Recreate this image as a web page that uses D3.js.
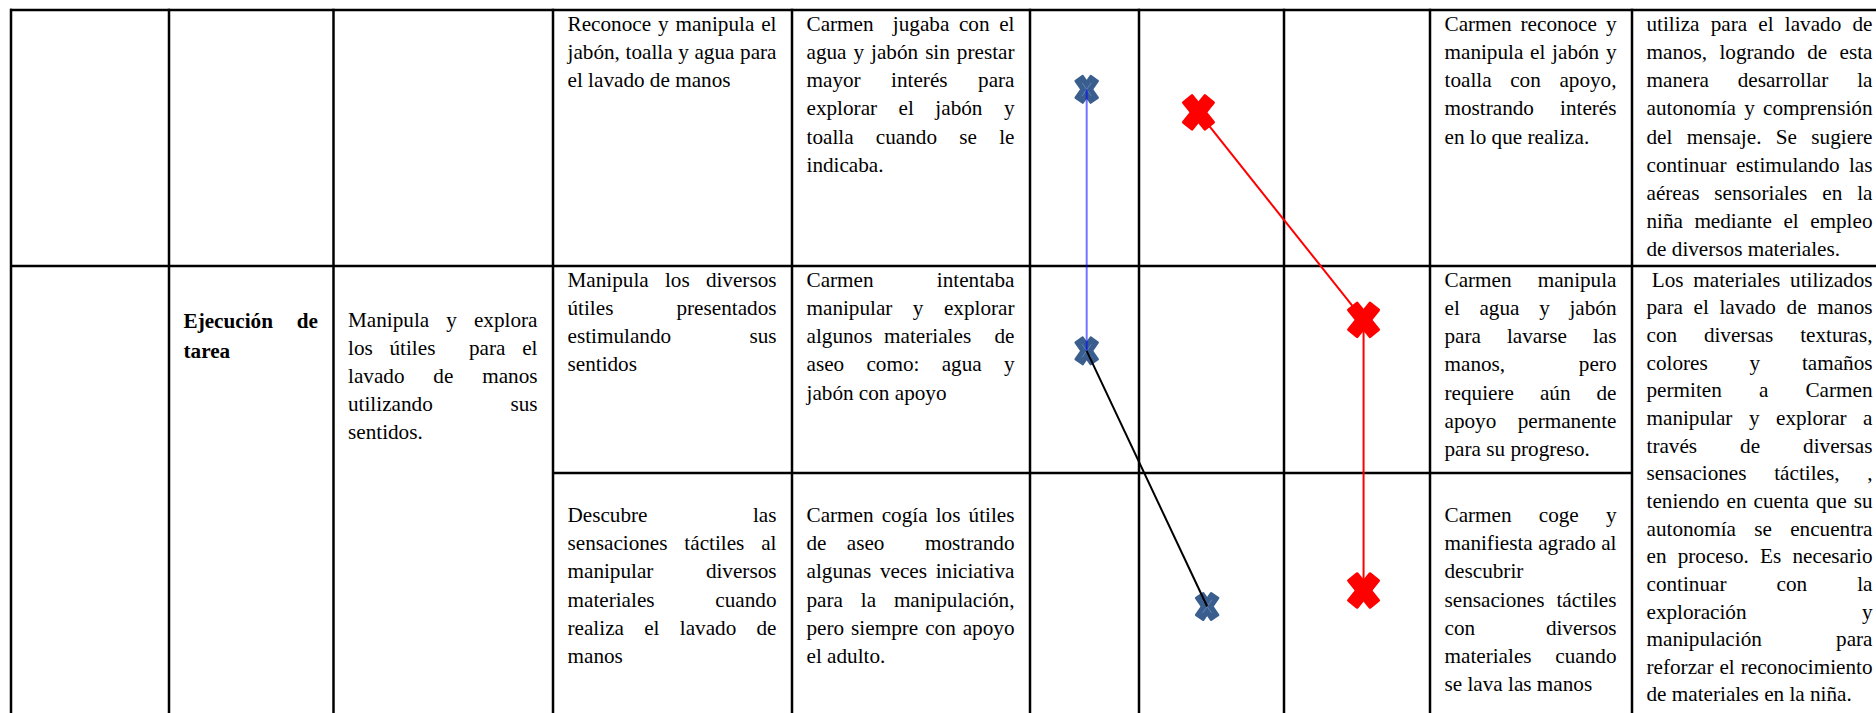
<!DOCTYPE html>
<html>
<head>
<meta charset="utf-8">
<script src="https://cdn.jsdelivr.net/npm/d3@7"></script>
<style>
html,body{margin:0;padding:0;background:#fff;overflow:hidden}
svg text{font-family:"Liberation Serif","Times New Roman",serif;fill:#000}
</style>
</head>
<body>
<svg id="chart" width="1876" height="713"></svg>
<script>
// ---------------- DATA ----------------
// Row 1 (continuation), Row 2, Row 3 of the evaluation table
const dimensionLines = ["Ejecución de", "tarea"];
const objectiveLines = ["Manipula y explora", "los útiles  para el", "lavado de manos", "utilizando sus", "sentidos."];

const indicatorLines = [
  ["Reconoce y manipula el", "jabón, toalla y agua para", "el lavado de manos"],
  ["Manipula los diversos", "útiles presentados", "estimulando sus", "sentidos"],
  ["", "Descubre las", "sensaciones táctiles al", "manipular diversos", "materiales cuando", "realiza el lavado de", "manos"]
];
const initialObsLines = [
  ["Carmen  jugaba con el", "agua y jabón sin prestar", "mayor interés para", "explorar el jabón y", "toalla cuando se le", "indicaba."],
  ["Carmen intentaba", "manipular y explorar", "algunos materiales  de", "aseo como: agua y", "jabón con apoyo"],
  ["", "Carmen cogía los útiles", "de aseo  mostrando", "algunas veces iniciativa", "para la manipulación,", "pero siempre con apoyo", "el adulto."]
];
const finalObsLines = [
  ["Carmen reconoce y", "manipula el jabón y", "toalla con apoyo,", "mostrando interés", "en lo que realiza."],
  ["Carmen manipula", "el agua y jabón", "para lavarse las", "manos, pero", "requiere aún de", "apoyo permanente", "para su progreso."],
  ["", "Carmen coge y", "manifiesta agrado al", "descubrir", "sensaciones táctiles", "con diversos", "materiales cuando", "se lava las manos"]
];
const conclusionLines = [
  ["utiliza para el lavado de", "manos, logrando de esta", "manera desarrollar la", "autonomía y comprensión", "del mensaje. Se sugiere", "continuar estimulando las", "aéreas sensoriales en la", "niña mediante el empleo", "de diversos materiales."],
  [" Los materiales utilizados", "para el lavado de manos", "con diversas texturas,", "colores y tamaños", "permiten a Carmen", "manipular y explorar a", "través de diversas", "sensaciones táctiles, ,", "teniendo en cuenta que su", "autonomía se encuentra", "en proceso. Es necesario", "continuar con la", "exploración y", "manipulación para", "reforzar el reconocimiento", "de materiales en la niña."]
];

// Evaluation marks: x = level (0..3 across the three evaluation columns), y = row position (0..3)
const initialLevel = [0.52, 0.52, 1.47];
const initialRow   = [0.31, 1.41, 2.50];
const finalLevel   = [1.41, 2.545, 2.545];
const finalRow     = [0.40, 1.26, 2.44];

// ---------------- LAYOUT / STYLE ----------------
const W = 1876, H = 713;
const colEdges = [11, 169, 333.5, 553, 792, 1030, 1139, 1284, 1430, 1632, 1888];
const rowEdges = [10, 266, 473, 740];
const padL = 14.5, padR = 15.5;
const fontSize = 21.2;
const lineH = 28.2;
const gridColor = "#000", gridWidth = 2.5;

const svg = d3.select("#chart");

const xLevel = d3.scaleLinear().domain([0, 1, 2, 3]).range([colEdges[5], colEdges[6], colEdges[7], colEdges[8]]);
const yRow = d3.scaleLinear().domain([0, 1, 2, 3]).range(rowEdges);

// ---- grid ----
const hLines = [
  {y: rowEdges[0], x1: colEdges[0] - 1, x2: W},
  {y: rowEdges[1], x1: colEdges[0] - 1, x2: W},
  {y: rowEdges[2], x1: colEdges[3], x2: colEdges[9]}
];
const vLines = colEdges.slice(0, 10);

const grid = svg.append("g").attr("class", "grid");
grid.selectAll("line.h").data(hLines).join("line").attr("class", "h")
  .attr("x1", d => d.x1).attr("x2", d => d.x2).attr("y1", d => d.y).attr("y2", d => d.y)
  .attr("stroke", gridColor).attr("stroke-width", gridWidth);
grid.selectAll("line.v").data(vLines).join("line").attr("class", "v")
  .attr("x1", d => d).attr("x2", d => d).attr("y1", rowEdges[0] - 1.2).attr("y2", H + 5)
  .attr("stroke", gridColor).attr("stroke-width", gridWidth);

// ---- text cells ----
const cells = [];
cells.push({col: 1, row: 0, lines: dimensionLines, bold: true, first: 61.5, lh: 30});
cells.push({col: 2, row: 0, lines: objectiveLines, first: 61, lh: 28});
indicatorLines.forEach((l, i) => cells.push({col: 3, row: i, lines: l}));
initialObsLines.forEach((l, i) => cells.push({col: 4, row: i, lines: l}));
finalObsLines.forEach((l, i) => cells.push({col: 8, row: i, lines: l}));
conclusionLines.forEach((l, i) => cells.push({col: 9, row: i, lines: l, lh: i === 1 ? 27.65 : lineH}));

const measurer = svg.append("text").attr("font-size", fontSize).attr("x", -1000).attr("y", -1000)
  .style("white-space", "pre");
function measure(s, bold) {
  measurer.attr("font-weight", bold ? "bold" : "normal").text(s);
  return measurer.node().getComputedTextLength();
}
const spaceW = fontSize * 0.25;

const textG = svg.append("g").attr("class", "cells");
cells.forEach(c => {
  const rowTop = c.row === 0 && (c.col === 1 || c.col === 2) ? rowEdges[1] : rowEdges[c.row];
  const x0 = colEdges[c.col] + padL;
  const x1 = colEdges[c.col + 1] - padR;
  const first = c.first !== undefined ? c.first : 20.7;
  const lh = c.lh || lineH;
  const g = textG.append("g");
  c.lines.forEach((line, i) => {
    if (!line.trim()) return;
    const y = rowTop + first + i * lh;
    const isLast = i === c.lines.length - 1;
    let start = x0;
    let body = line;
    while (body.startsWith(" ")) { start += spaceW; body = body.slice(1); }
    const tokens = body.split(" ");
    const words = tokens.filter(t => t.length);
    const t = g.append("text").attr("font-size", fontSize).attr("y", y)
      .attr("font-weight", c.bold ? "bold" : "normal");
    if (isLast || words.length < 2) {
      t.attr("x", start).style("white-space", "pre").text(body);
      return;
    }
    const widths = tokens.map(tk => tk.length ? measure(tk, c.bold) : 0);
    const gap = (x1 - start - d3.sum(widths)) / (tokens.length - 1);
    let cx = start;
    tokens.forEach((tk, k) => {
      if (tk.length) t.append("tspan").attr("x", cx).text(tk);
      cx += widths[k] + gap;
    });
  });
});
measurer.remove();

// ---- evaluation marks ----
const initialPts = initialLevel.map((v, i) => [xLevel(v), yRow(initialRow[i])]);
const finalPts = finalLevel.map((v, i) => [xLevel(v), yRow(finalRow[i])]);

const initialSegColors = ["rgba(0,0,255,0.55)", "#000"];
const finalSegColors = ["#ff0000", "#ff0000"];

function armPath(ax, ay, t) {
  const L = Math.hypot(ax, ay);
  const nx = -ay / L * t / 2, ny = ax / L * t / 2;
  return d3.line()([[-ax + nx, -ay + ny], [ax + nx, ay + ny], [ax - nx, ay - ny], [-ax - nx, -ay - ny]]) + "Z";
}
function drawX(sel, pts, o) {
  const g = sel.selectAll(null).data(pts).join("g")
    .attr("transform", d => `translate(${d[0]},${d[1]})`);
  [armPath(o.a, o.b, o.t), armPath(o.a, -o.b, o.t)].forEach(p => {
    g.append("path").attr("d", p).attr("fill", o.color).attr("stroke", o.color)
      .attr("stroke-width", o.r).attr("stroke-linejoin", "round");
  });
  if (o.hi) {
    g.append("path").attr("d", `M${-o.a * 0.6},${-o.b * 0.6}L${o.a * 0.6},${o.b * 0.6}M${-o.a * 0.6},${o.b * 0.6}L${o.a * 0.6},${-o.b * 0.6}`)
      .attr("stroke", o.hi).attr("stroke-width", 1).attr("opacity", 0.5).attr("fill", "none");
  }
}

const marks = svg.append("g").attr("class", "marks");
drawX(marks.append("g").attr("class", "initial-marks"), initialPts,
  {a: 7.5, b: 10.8, t: 8.5, r: 2.5, color: "#3a5e8e", hi: "#86aadd"});

const segs = svg.append("g").attr("class", "segments");
const lineGen = d3.line();
function drawSegs(pts, colors) {
  d3.pairs(pts).forEach((p, i) => {
    segs.append("path").attr("d", lineGen(p)).attr("fill", "none")
      .attr("stroke", colors[i]).attr("stroke-width", 2);
  });
}
drawSegs(initialPts, initialSegColors);
drawSegs(finalPts, finalSegColors);

drawX(svg.append("g").attr("class", "final-marks"), finalPts,
  {a: 10.7, b: 13.3, t: 11, r: 3, color: "#ff0000"});
</script>
</body>
</html>
